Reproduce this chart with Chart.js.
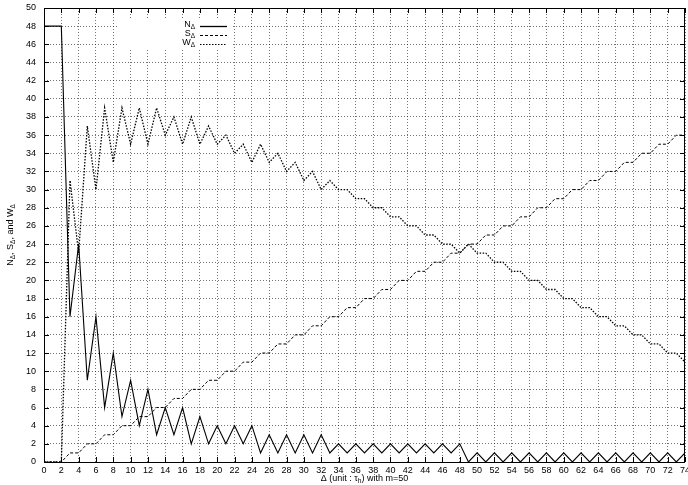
<!DOCTYPE html>
<html>
<head>
<meta charset="utf-8">
<script src="https://cdn.jsdelivr.net/npm/chart.js@4/dist/chart.umd.min.js"></script>
<style>
html,body{margin:0;padding:0;background:#fff;}
canvas{display:block;}
</style>
</head>
<body>
<canvas id="c" width="688" height="485"></canvas>
<script>
// ---- data ----
const deltas = [0,1,2,3,4,5,6,7,8,9,10,11,12,13,14,15,16,17,18,19,20,21,22,23,24,25,26,27,28,29,30,31,32,33,34,35,36,37,38,39,40,41,42,43,44,45,46,47,48,49,50,51,52,53,54,55,56,57,58,59,60,61,62,63,64,65,66,67,68,69,70,71,72,73,74];
const nDelta = [48,48,48,16,24,9,16,6,12,5,9,4,8,3,6,3,6,2,5,2,4,2,4,2,4,1,3,1,3,1,3,1,3,1,2,1,2,1,2,1,2,1,2,1,2,1,2,1,2,0,1,0,1,0,1,0,1,0,1,0,1,0,1,0,1,0,1,0,1,0,1,0,1,0,1];
const sDelta = [0,0,0,1,1,2,2,3,3,4,4,5,5,6,6,7,7,8,8,9,9,10,10,11,11,12,12,13,13,14,14,15,15,16,16,17,17,18,18,19,19,20,20,21,21,22,22,23,23,24,24,25,25,26,26,27,27,28,28,29,29,30,30,31,31,32,32,33,33,34,34,35,35,36,36];
const wDelta = [0,0,0,31,23,37,30,39,33,39,35,39,35,39,36,38,35,38,35,37,35,36,34,35,33,35,33,34,32,33,31,32,30,31,30,30,29,29,28,28,27,27,26,26,25,25,24,24,23,24,23,23,22,22,21,21,20,20,19,19,18,18,17,17,16,16,15,15,14,14,13,13,12,12,11];
const xTickMin = 0, xTickMax = 74, xTickStep = 2;
const yTickMin = 0, yTickMax = 50, yTickStep = 2;
const seriesNames = ['N', 'S', 'W'];

const FONT = '"Liberation Sans", Arial, Helvetica, sans-serif';

function toPoints(ys){ return deltas.map((x,i)=>({x:x, y:ys[i]})); }

// draw text made of parts [text, isSubscript]
function richWidth(ctx, parts, size){
  let w = 0;
  for (const [t, sub] of parts){
    ctx.font = (sub ? size*0.72 : size) + 'px ' + FONT;
    w += ctx.measureText(t).width;
  }
  return w;
}
function drawRich(ctx, parts, x, y, size, align){
  const w = richWidth(ctx, parts, size);
  let cx = align === 'right' ? x - w : (align === 'center' ? x - w/2 : x);
  ctx.textBaseline = 'middle';
  ctx.textAlign = 'left';
  for (const [t, sub] of parts){
    ctx.font = (sub ? size*0.72 : size) + 'px ' + FONT;
    ctx.fillText(t, cx, sub ? y + size*0.3 : y);
    cx += ctx.measureText(t).width;
  }
}

const gnuPlugin = {
  id: 'gnu',
  beforeDatasetsDraw(chart){
    const ctx = chart.ctx;
    ctx.save();
    ctx.fillStyle = '#fff';
    ctx.fillRect(118, 18, 114, 32);
    ctx.restore();
  },
  afterDatasetsDraw(chart){
    const ctx = chart.ctx;
    const a = chart.chartArea;
    const xs = chart.scales.x, ys = chart.scales.y;
    ctx.save();
    ctx.setLineDash([]);
    ctx.strokeStyle = '#000';
    ctx.lineWidth = 1;
    // frame
    ctx.strokeRect(Math.round(a.left)+0.5, Math.round(a.top)+0.5, Math.round(a.right-a.left)-1, Math.round(a.bottom-a.top));
    // inward tick marks
    ctx.beginPath();
    for (let v = xTickMin; v <= xTickMax; v += xTickStep){
      const p = Math.round(xs.getPixelForValue(v)) + 0.5;
      ctx.moveTo(p, a.bottom); ctx.lineTo(p, a.bottom - 5);
      ctx.moveTo(p, a.top); ctx.lineTo(p, a.top + 5);
    }
    for (let v = yTickMin; v <= yTickMax; v += yTickStep){
      const p = Math.round(ys.getPixelForValue(v)) + 0.5;
      ctx.moveTo(a.left, p); ctx.lineTo(a.left + 5, p);
      ctx.moveTo(a.right, p); ctx.lineTo(a.right - 5, p);
    }
    ctx.stroke();

    // key
    const rows = [26, 35, 44];
    const dashes = [[], [3,2], [1.5,1.5]];
    ctx.fillStyle = '#000';
    for (let i = 0; i < 3; i++){
      drawRich(ctx, [[seriesNames[i], false], ['\u0394', true]], 195, rows[i] - 1, 9, 'right');
      ctx.beginPath();
      ctx.setLineDash(dashes[i]);
      ctx.lineWidth = i === 0 ? 1.3 : 1;
      ctx.moveTo(200, rows[i] + 0.5); ctx.lineTo(227, rows[i] + 0.5);
      ctx.stroke();
    }
    ctx.setLineDash([]);

    // axis titles
    drawRich(ctx, [['\u0394 (unit : \u03c4', false], ['h', true], [') with m=50', false]], (a.left + a.right)/2, 479, 9, 'center');
    ctx.save();
    ctx.translate(11, (a.top + a.bottom)/2);
    ctx.rotate(-Math.PI/2);
    drawRich(ctx, [['N', false], ['\u0394', true], [', S', false], ['\u0394', true], [', and W', false], ['\u0394', true]], 0, 0, 9, 'center');
    ctx.restore();
    ctx.restore();
  }
};

const gridColor = 'rgba(0,0,0,0.55)';

new Chart(document.getElementById('c'), {
  type: 'line',
  data: {
    datasets: [
      { label: 'N\u0394', data: toPoints(nDelta), borderColor: '#000', borderWidth: 1.1, pointRadius: 0, tension: 0, fill: false },
      { label: 'S\u0394', data: toPoints(sDelta), borderColor: '#000', borderWidth: 1, borderDash: [3,2], pointRadius: 0, tension: 0, fill: false },
      { label: 'W\u0394', data: toPoints(wDelta), borderColor: '#000', borderWidth: 1.3, borderDash: [1.5,1.5], pointRadius: 0, tension: 0, fill: false }
    ]
  },
  options: {
    responsive: false,
    animation: false,
    layout: { padding: { top: 8, right: 3, left: 0, bottom: 0 } },
    plugins: { legend: { display: false }, tooltip: { enabled: false } },
    scales: {
      x: {
        type: 'linear', min: xTickMin, max: xTickMax,
        afterFit(s){ s.height = 23; s.paddingLeft = 0; s.paddingRight = 0; },
        ticks: { stepSize: xTickStep, autoSkip: false, maxRotation: 0, padding: 3, color: '#000', font: { family: FONT, size: 9 } },
        grid: { color: gridColor, lineWidth: 1, drawTicks: false },
        border: { display: false, dash: [1,2] }
      },
      y: {
        type: 'linear', min: yTickMin, max: yTickMax,
        afterFit(s){ s.width = 44; s.paddingTop = 0; s.paddingBottom = 0; },
        ticks: { stepSize: yTickStep, autoSkip: false, padding: 8, color: '#000', font: { family: FONT, size: 9 } },
        grid: { color: gridColor, lineWidth: 1, drawTicks: false },
        border: { display: false, dash: [1,2] }
      }
    }
  },
  plugins: [gnuPlugin]
});
</script>
</body>
</html>
